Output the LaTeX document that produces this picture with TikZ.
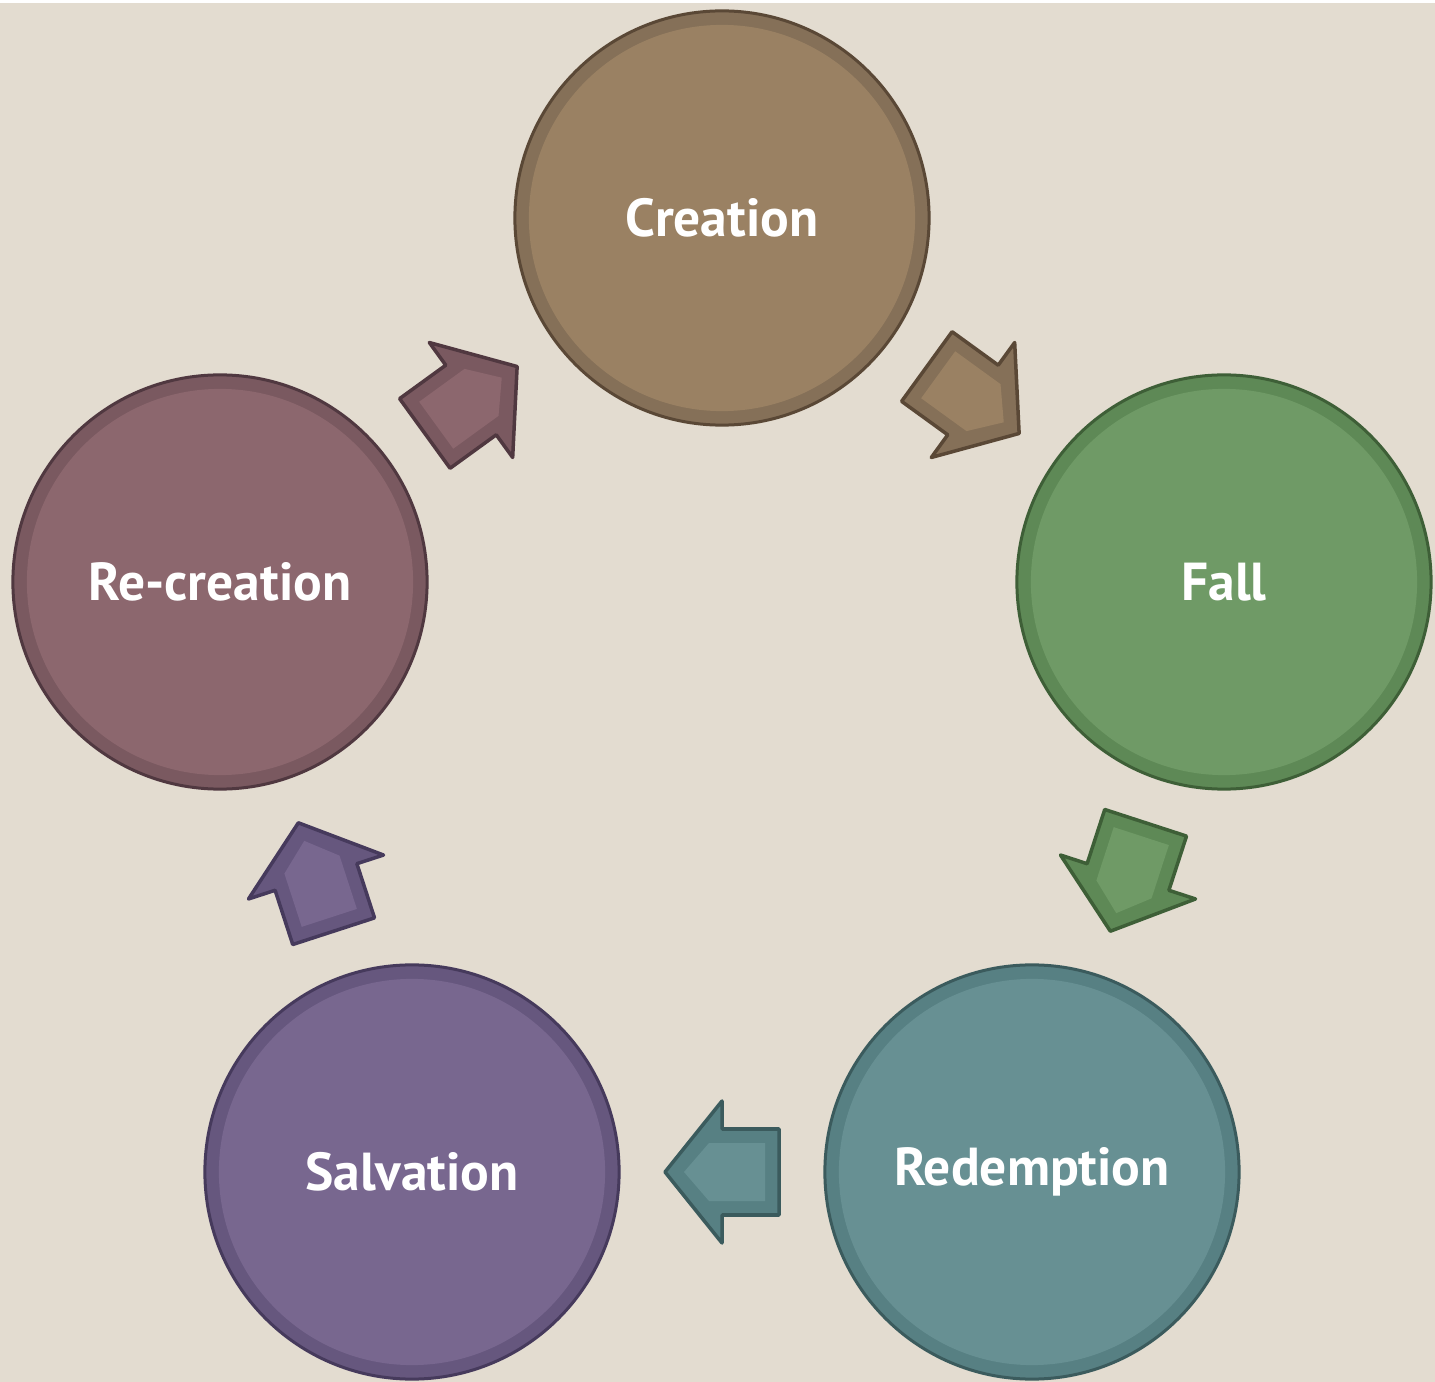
\documentclass[tikz,border=0pt]{standalone}
\usepackage{fontspec}
\setmainfont{PT Sans}
\usetikzlibrary{calc}

\definecolor{bgbeige}{HTML}{E3DCD0}
\definecolor{crefill}{HTML}{9A8163}
\definecolor{crering}{HTML}{857058}
\definecolor{creline}{HTML}{5A4836}
\definecolor{falfill}{HTML}{6F9A66}
\definecolor{falring}{HTML}{5E8956}
\definecolor{falline}{HTML}{3E5F37}
\definecolor{redfill}{HTML}{679093}
\definecolor{redring}{HTML}{578083}
\definecolor{redline}{HTML}{3B5B5D}
\definecolor{salfill}{HTML}{78678F}
\definecolor{salring}{HTML}{66577E}
\definecolor{salline}{HTML}{463A5C}
\definecolor{recfill}{HTML}{8C676E}
\definecolor{recring}{HTML}{7A5960}
\definecolor{recline}{HTML}{503840}

\begin{document}
\begin{tikzpicture}
		[x=0.01cm,y=-0.01cm,
		stage/.style={circle,minimum size=4.14cm,inner sep=0pt,line width=0.03cm,
			draw=#1line,fill=#1ring,text=white,font=\bfseries\fontsize{15.2}{18}\selectfont,
			path picture={\fill[#1fill] (path picture bounding box.center) circle (1.93cm);}},
		arrowouter/.style={fill=#1ring,draw=#1line,line width=0.035cm,line join=round},
		arrowinner/.style={fill=#1fill}]
		\useasboundingbox[fill=white] (0,0) rectangle (1435,1382);
		\fill[bgbeige] (0,3) rectangle (1435,1382);
		
		\node[stage=cre] (creation) at (722,218) {Creation};
		\node[stage=fal] (fall) at (1224,582) {Fall};
		\node[stage=red] (redemption) at (1032,1172) {Redemption};
		\node[stage=sal] (salvation) at (412,1172) {Salvation};
		\node[stage=rec] (recreation) at (220,582) {Re-creation};
		
		\foreach \from/\to/\c in {creation/fall/cre,fall/redemption/fal,redemption/salvation/red,salvation/recreation/sal,recreation/creation/rec}
		{
			\pgfmathanglebetweenpoints{\pgfpointanchor{\from}{center}}{\pgfpointanchor{\to}{center}}
			\edef\arrowdir{\pgfmathresult}
			\begin{scope}[shift={($(\from)!0.5!(\to)$)},rotate=\arrowdir]
				\draw[arrowouter=\c] (57,0) -- (0,71) -- (0,43) -- (-57,43) -- (-57,-43) -- (0,-43) -- (0,-71) -- cycle;
				\fill[arrowinner=\c] (38,0) -- (13,29) -- (-43,29) -- (-43,-29) -- (13,-29) -- cycle;
			\end{scope}
		}
\end{tikzpicture}
\end{document}
